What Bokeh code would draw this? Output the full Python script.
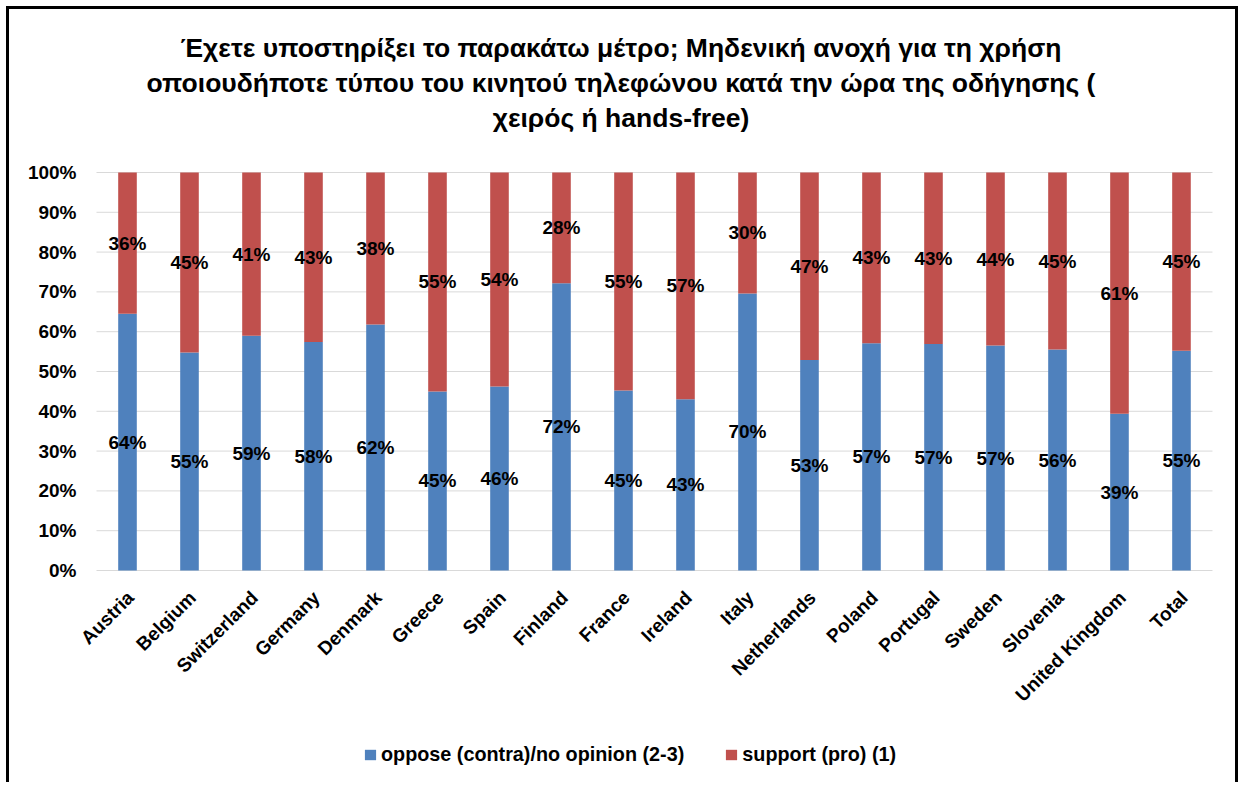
from bokeh.plotting import figure
from bokeh.models import (ColumnDataSource, Legend, LegendItem, Label, Range1d)
from bokeh.core.properties import value
from bokeh.embed import file_html
from bokeh.resources import INLINE
import math

title_lines = [
    "Έχετε υποστηρίξει το παρακάτω μέτρο; Μηδενική ανοχή για τη χρήση",
    "οποιουδήποτε τύπου του κινητού τηλεφώνου κατά την ώρα της οδήγησης (",
    "χειρός ή hands-free)",
]
countries = ["Austria", "Belgium", "Switzerland", "Germany", "Denmark", "Greece",
             "Spain", "Finland", "France", "Ireland", "Italy", "Netherlands",
             "Poland", "Portugal", "Sweden", "Slovenia", "United Kingdom", "Total"]
# oppose share (bar heights, in %)
oppose = [64.5, 54.8, 59.0, 57.4, 61.8, 45.0, 46.2, 72.2, 45.2, 43.0, 69.6, 52.9,
          57.1, 56.9, 56.5, 55.5, 39.4, 55.2]
# printed labels
oppose_labels = [64, 55, 59, 58, 62, 45, 46, 72, 45, 43, 70, 53, 57, 57, 57, 56, 39, 55]
support_labels = [36, 45, 41, 43, 38, 55, 54, 28, 55, 57, 30, 47, 43, 43, 44, 45, 61, 45]
series_names = ["oppose (contra)/no opinion (2-3)", "support (pro) (1)"]
yticks = [0, 0.1, 0.2, 0.3, 0.4, 0.5, 0.6, 0.7, 0.8, 0.9, 1.0]

BLUE = "#4F81BD"
RED = "#C0504D"
FONT = "Liberation Sans"

n = len(countries)
o = [v / 100 for v in oppose]
src = ColumnDataSource(dict(
    xpos=[i + 0.5 for i in range(n)],
    c=countries,
    o=o,
    zero=[0.0] * n,
    one=[1.0] * n,
    ymid_o=[v / 2 for v in o],
    ymid_s=[(v + 1) / 2 for v in o],
    lab_o=[f"{v}%" for v in oppose_labels],
    lab_s=[f"{v}%" for v in support_labels],
))
tick_src = ColumnDataSource(dict(
    t=yticks,
    lab=[f"{round(t * 100)}%" for t in yticks],
    x0=[0] * len(yticks),
    x1=[n] * len(yticks),
))

# the plot area spans the whole canvas; axis labels, title and legend are
# drawn inside it around the 0..100% band (category slots 0..n)
p = figure(x_range=Range1d(-1.4032, 18.468), y_range=Range1d(-0.5402, 1.4095),
           width=1232, height=776, x_axis_location=None, y_axis_location=None,
           output_backend="svg", toolbar_location=None,
           min_border_left=0, min_border_right=0, min_border_top=0,
           min_border_bottom=0)
p.styles = {"border-top": "3px solid black", "border-left": "3px solid black",
            "border-right": "3px solid black", "margin-left": "6px",
            "margin-top": "6px"}
p.outline_line_color = None
p.background_fill_color = "white"
p.grid.visible = False

# horizontal gridlines across the category band
p.segment(x0="x0", y0="t", x1="x1", y1="t", source=tick_src,
          line_color="#D9D9D9", line_width=1)
# y tick labels
p.text(x="x0", y="t", text="lab", source=tick_src, text_align="right",
       text_baseline="middle", x_offset=-20, text_font=value(FONT),
       text_font_style="bold", text_font_size="19px", text_color="black")

r1 = p.vbar(x="xpos", bottom="zero", top="o", width=0.3, source=src,
            fill_color=BLUE, line_color=None)
r2 = p.vbar(x="xpos", bottom="o", top="one", width=0.3, source=src,
            fill_color=RED, line_color=None)

for ycol, tcol in (("ymid_o", "lab_o"), ("ymid_s", "lab_s")):
    p.text(x="xpos", y=ycol, text=tcol, source=src, text_align="center",
           text_baseline="middle", text_font=value(FONT), text_font_style="bold",
           text_font_size="19px", text_color="black")

# category labels, rotated, ending under each bar
p.text(x="xpos", y="zero", text="c", source=src, angle=math.pi / 4,
       text_align="right", text_baseline="middle", x_offset=3, y_offset=24,
       text_font=value(FONT), text_font_style="bold", text_font_size="19px",
       text_color="black")

for t, yy in zip(title_lines, [1.314, 1.224, 1.136]):
    p.add_layout(Label(x=8.46, y=yy, text=t, text_align="center",
                       text_baseline="middle", text_font=FONT,
                       text_font_style="bold", text_font_size="26.5px",
                       text_color="black"))

legend = Legend(items=[LegendItem(label=series_names[0], renderers=[r1]),
                       LegendItem(label=series_names[1], renderers=[r2])],
                orientation="horizontal", location=(354, 19),
                glyph_width=14, glyph_height=13, label_standoff=4, spacing=40,
                label_height=20, padding=0, margin=0, border_line_color=None,
                background_fill_alpha=0,
                label_text_font=FONT, label_text_font_style="bold",
                label_text_font_size="19.8px", label_text_color="black")
p.add_layout(legend, "center")

open("out.html", "w").write(file_html(p, INLINE))
